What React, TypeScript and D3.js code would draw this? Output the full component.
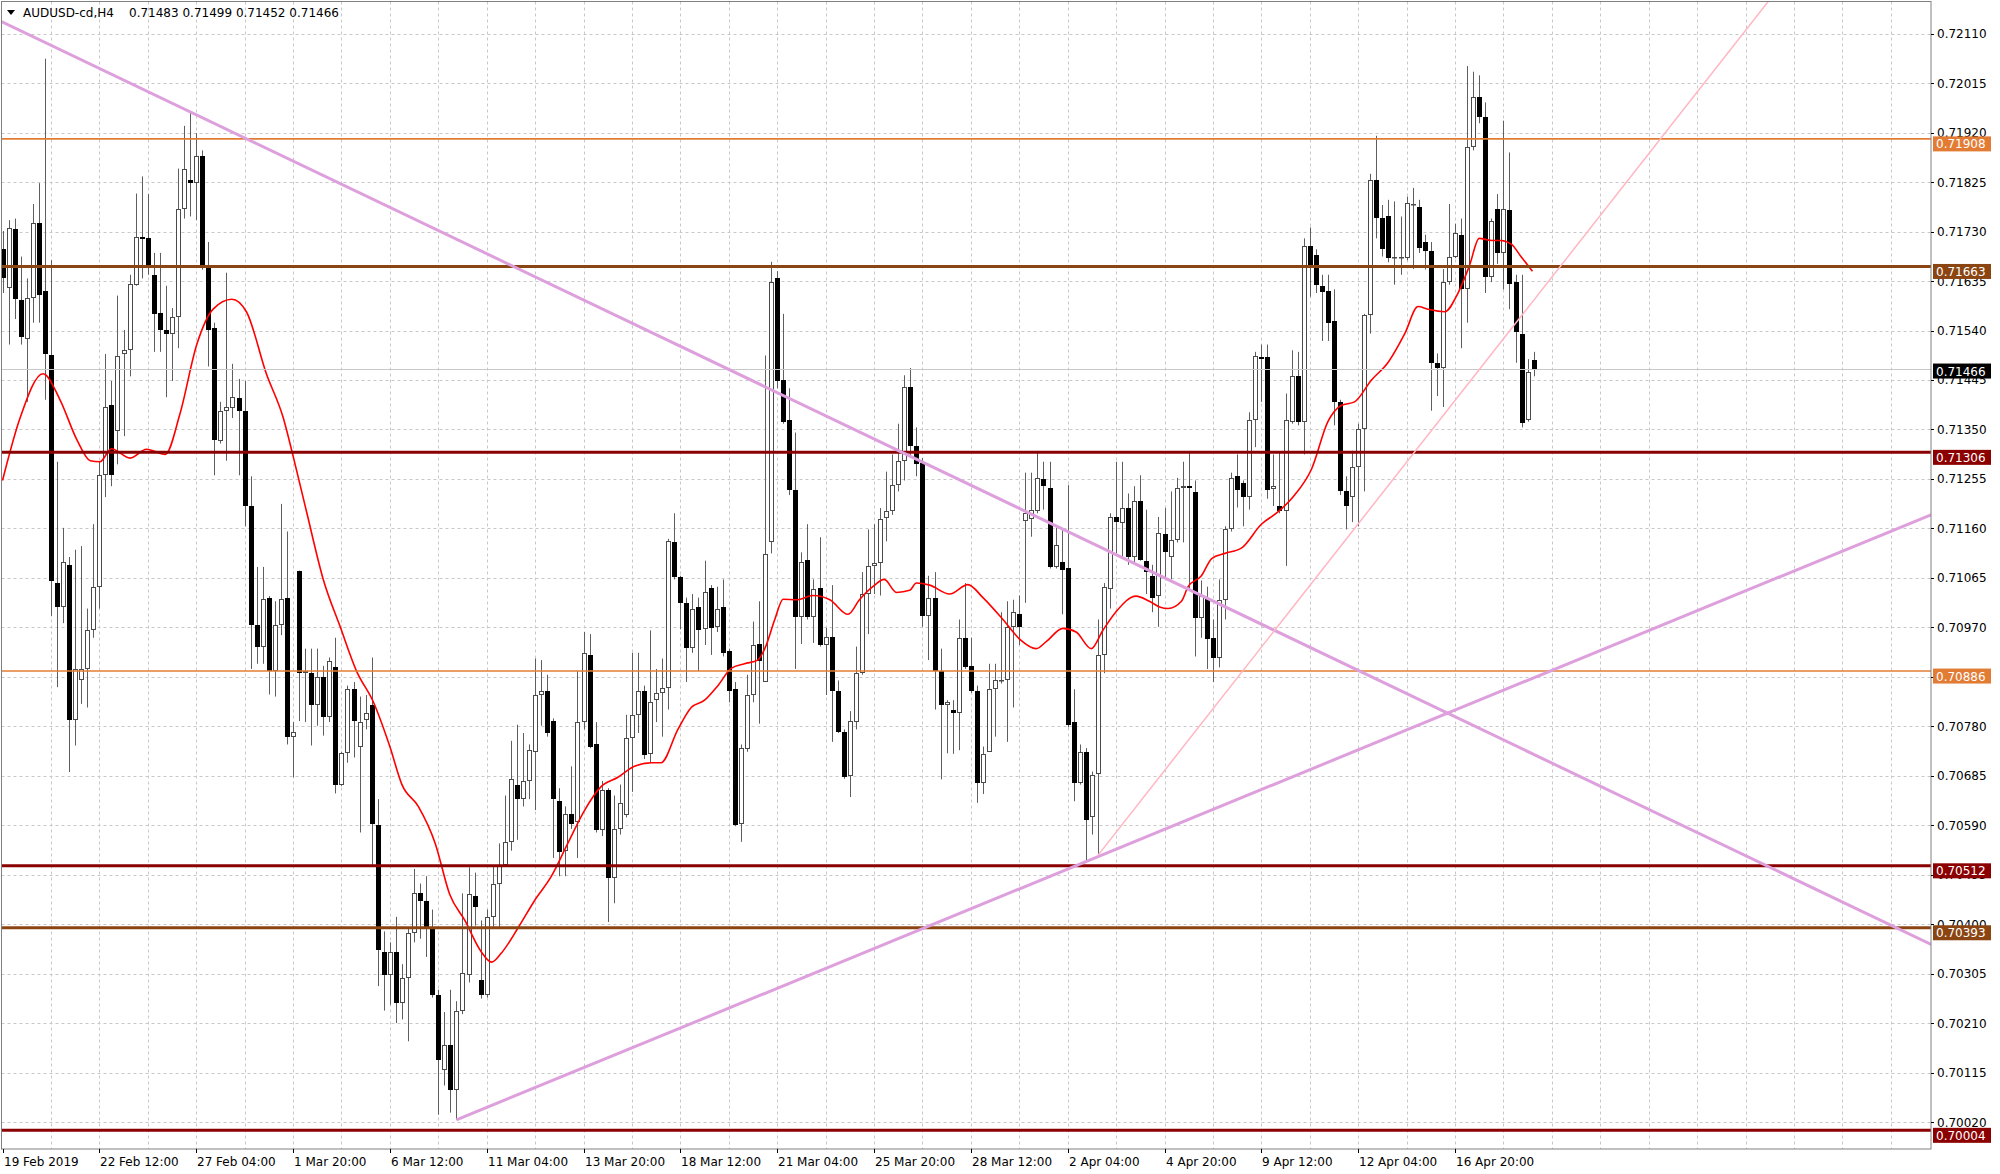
import React from "react";
import * as d3 from "d3";

// ---------- DATA ----------
const SYMBOL = "AUDUSD-cd,H4";
const HEADER_OHLC = "0.71483 0.71499 0.71452 0.71466";

const OPEN = [0.71696,0.71621,0.71734,0.71598,0.71524,0.71603,0.71747,0.71616,0.71493,0.71055,0.71009,0.71090,0.70792,0.70868,0.70890,0.70964,0.71048,0.71262,0.71396,0.71347,0.71495,0.71503,0.71628,0.71720,0.71717,0.71647,0.71574,0.71541,0.71534,0.71566,0.71774,0.71830,0.71823,0.71876,0.71661,0.71545,0.71327,0.71386,0.71392,0.71410,0.71386,0.71203,0.70975,0.70933,0.71027,0.70886,0.70975,0.71027,0.70760,0.71079,0.70882,0.70883,0.70820,0.70874,0.70797,0.70893,0.70668,0.70728,0.70851,0.70741,0.70792,0.70820,0.70590,0.70347,0.70302,0.70347,0.70248,0.70297,0.70383,0.70459,0.70445,0.70393,0.70264,0.70119,0.70168,0.70081,0.70234,0.70302,0.70454,0.70292,0.70264,0.70414,0.70478,0.70513,0.70558,0.70668,0.70640,0.70675,0.70731,0.70840,0.70848,0.70790,0.70637,0.70541,0.70612,0.70597,0.70788,0.70917,0.70745,0.70581,0.70657,0.70488,0.70583,0.70609,0.70757,0.70802,0.70848,0.70727,0.70830,0.70844,0.70854,0.71133,0.71066,0.71016,0.70930,0.71009,0.70966,0.71045,0.70971,0.71009,0.70924,0.70851,0.70593,0.70736,0.70840,0.70938,0.70865,0.71133,0.71640,0.71445,0.71369,0.71234,0.70989,0.71100,0.70989,0.71045,0.70936,0.70952,0.70847,0.70769,0.70685,0.70788,0.70882,0.71034,0.71088,0.71093,0.71179,0.71193,0.71243,0.71290,0.71431,0.71319,0.71285,0.70992,0.71027,0.70886,0.70820,0.70812,0.70806,0.70950,0.70896,0.70848,0.70671,0.70731,0.70851,0.70868,0.70868,0.70971,0.70995,0.71175,0.71178,0.71193,0.71255,0.71238,0.71086,0.71095,0.71083,0.70788,0.70671,0.70731,0.70605,0.70689,0.70917,0.71044,0.71182,0.71171,0.71199,0.71105,0.71213,0.71098,0.71069,0.71030,0.71150,0.71105,0.71137,0.71238,0.71241,0.71229,0.70988,0.71027,0.70950,0.70912,0.71023,0.71158,0.71260,0.71248,0.71221,0.71369,0.71489,0.71489,0.71236,0.71203,0.71193,0.71365,0.71452,0.71364,0.71703,0.71685,0.71626,0.71616,0.71558,0.71403,0.71231,0.71221,0.71278,0.71351,0.71569,0.71830,0.71757,0.71759,0.71679,0.71682,0.71679,0.71781,0.71778,0.71710,0.71693,0.71478,0.71468,0.71633,0.71682,0.71724,0.71619,0.71893,0.71989,0.71950,0.71643,0.71774,0.71689,0.71771,0.71633,0.71534,0.71369,0.71483];
const HIGH = [0.71731,0.71752,0.71755,0.71682,0.71640,0.71783,0.71823,0.72062,0.71675,0.71288,0.71161,0.71105,0.71119,0.71126,0.71006,0.71168,0.71288,0.71495,0.71443,0.71607,0.71541,0.71647,0.71803,0.71836,0.71802,0.71689,0.71689,0.71626,0.71583,0.71851,0.71933,0.71961,0.71919,0.71886,0.71710,0.71555,0.71403,0.71651,0.71476,0.71447,0.71443,0.71260,0.71086,0.71086,0.71030,0.71020,0.71207,0.71154,0.70788,0.71079,0.70929,0.70929,0.70929,0.70896,0.70912,0.70950,0.70731,0.70858,0.70865,0.70837,0.70840,0.70912,0.70640,0.70386,0.70365,0.70414,0.70323,0.70393,0.70506,0.70478,0.70492,0.70428,0.70274,0.70231,0.70274,0.70252,0.70459,0.70509,0.70499,0.70407,0.70428,0.70513,0.70555,0.70647,0.70752,0.70783,0.70767,0.70745,0.70910,0.70907,0.70879,0.70795,0.70661,0.70626,0.70703,0.70886,0.70961,0.70957,0.70788,0.70675,0.70661,0.70647,0.70668,0.70802,0.70921,0.70921,0.70858,0.70964,0.70890,0.70910,0.71140,0.71189,0.71069,0.71027,0.71034,0.71027,0.71098,0.71051,0.71048,0.71062,0.70929,0.70865,0.70745,0.70879,0.70981,0.71020,0.71492,0.71672,0.71654,0.71572,0.71429,0.71344,0.71114,0.71168,0.71062,0.71143,0.70969,0.71051,0.70868,0.70774,0.70809,0.70933,0.71076,0.71158,0.71168,0.71199,0.71269,0.71302,0.71361,0.71454,0.71468,0.71354,0.71295,0.71069,0.71076,0.70929,0.70830,0.70830,0.70985,0.71055,0.70950,0.70858,0.70741,0.70900,0.70900,0.70999,0.71020,0.71023,0.71031,0.71267,0.71267,0.71306,0.71288,0.71288,0.71161,0.71161,0.71243,0.70851,0.70745,0.70738,0.70693,0.70985,0.71055,0.71189,0.71288,0.71288,0.71227,0.71241,0.71262,0.71196,0.71090,0.71182,0.71199,0.71231,0.71257,0.71288,0.71305,0.71252,0.71060,0.71048,0.70985,0.71062,0.71164,0.71267,0.71302,0.71252,0.71383,0.71499,0.71513,0.71513,0.71302,0.71305,0.71419,0.71502,0.71499,0.71717,0.71738,0.71696,0.71647,0.71647,0.71619,0.71407,0.71260,0.71309,0.71361,0.71572,0.71841,0.71914,0.71781,0.71791,0.71788,0.71759,0.71797,0.71814,0.71791,0.71724,0.71710,0.71496,0.71658,0.71783,0.71745,0.71755,0.72048,0.72037,0.72030,0.71978,0.71755,0.71802,0.71943,0.71882,0.71647,0.71647,0.71485,0.71499];
const LOW = [0.71612,0.71513,0.71562,0.71513,0.71403,0.71555,0.71555,0.71407,0.70992,0.70855,0.70978,0.70692,0.70743,0.70823,0.70816,0.70950,0.71006,0.71220,0.71241,0.71283,0.71337,0.71452,0.71626,0.71640,0.71647,0.71499,0.71499,0.71412,0.71443,0.71506,0.71755,0.71759,0.71752,0.71657,0.71471,0.71262,0.71323,0.71290,0.71372,0.71262,0.71164,0.70890,0.70900,0.70900,0.70841,0.70837,0.70955,0.70745,0.70682,0.70790,0.70788,0.70743,0.70781,0.70762,0.70788,0.70651,0.70665,0.70710,0.70720,0.70576,0.70774,0.70513,0.70281,0.70234,0.70245,0.70210,0.70217,0.70175,0.70365,0.70372,0.70337,0.70259,0.70034,0.70090,0.70038,0.70024,0.70227,0.70288,0.70397,0.70257,0.70259,0.70393,0.70393,0.70513,0.70541,0.70562,0.70626,0.70640,0.70619,0.70781,0.70760,0.70527,0.70492,0.70492,0.70583,0.70527,0.70774,0.70738,0.70576,0.70569,0.70404,0.70440,0.70572,0.70605,0.70654,0.70767,0.70717,0.70710,0.70788,0.70760,0.70812,0.71062,0.70966,0.70865,0.70921,0.70886,0.70936,0.70917,0.70961,0.70914,0.70826,0.70588,0.70558,0.70731,0.70826,0.70785,0.70865,0.71112,0.71429,0.71361,0.71224,0.70890,0.70938,0.70985,0.70940,0.70933,0.70840,0.70750,0.70767,0.70679,0.70644,0.70774,0.70879,0.70957,0.71034,0.71031,0.71135,0.71186,0.71231,0.71252,0.71295,0.71260,0.70971,0.70907,0.70812,0.70678,0.70728,0.70727,0.70734,0.70890,0.70844,0.70633,0.70650,0.70731,0.70760,0.70862,0.70750,0.70816,0.70936,0.71017,0.71144,0.71189,0.71196,0.71083,0.71083,0.70995,0.70778,0.70636,0.70668,0.70520,0.70572,0.70530,0.70882,0.71006,0.71112,0.71105,0.71090,0.71090,0.71098,0.71034,0.70999,0.70971,0.71062,0.71062,0.71133,0.71133,0.71041,0.70914,0.70950,0.70890,0.70865,0.70893,0.70985,0.71154,0.71200,0.71164,0.71196,0.71316,0.71403,0.71217,0.71203,0.71189,0.71088,0.71361,0.71358,0.71302,0.71605,0.71612,0.71520,0.71520,0.71358,0.71224,0.71158,0.71172,0.71164,0.71231,0.71534,0.71717,0.71682,0.71671,0.71628,0.71647,0.71675,0.71658,0.71689,0.71657,0.71386,0.71414,0.71393,0.71628,0.71679,0.71506,0.71555,0.71886,0.71938,0.71612,0.71633,0.71668,0.71619,0.71581,0.71478,0.71354,0.71365,0.71452];
const CLOSE = [0.71640,0.71736,0.71600,0.71527,0.71602,0.71747,0.71609,0.71495,0.71058,0.71009,0.71095,0.70792,0.70890,0.70890,0.70964,0.71048,0.71262,0.71393,0.71262,0.71492,0.71503,0.71630,0.71720,0.71716,0.71665,0.71572,0.71541,0.71534,0.71566,0.71774,0.71851,0.71823,0.71876,0.71665,0.71541,0.71330,0.71386,0.71393,0.71412,0.71386,0.71203,0.70974,0.70933,0.71024,0.70886,0.70975,0.71024,0.70760,0.70769,0.70883,0.70886,0.70820,0.70874,0.70797,0.70905,0.70668,0.70728,0.70851,0.70790,0.70788,0.70806,0.70593,0.70351,0.70302,0.70347,0.70248,0.70297,0.70383,0.70459,0.70445,0.70393,0.70264,0.70140,0.70168,0.70081,0.70234,0.70306,0.70457,0.70433,0.70264,0.70414,0.70478,0.70513,0.70558,0.70679,0.70640,0.70675,0.70734,0.70840,0.70848,0.70767,0.70640,0.70538,0.70612,0.70593,0.70788,0.70921,0.70741,0.70581,0.70657,0.70488,0.70583,0.70633,0.70757,0.70802,0.70847,0.70724,0.70827,0.70844,0.70854,0.71135,0.71066,0.71016,0.70930,0.71006,0.70964,0.71037,0.70968,0.71006,0.70921,0.70848,0.70590,0.70738,0.70840,0.70936,0.70905,0.71110,0.71633,0.71443,0.71365,0.71234,0.70989,0.71095,0.70989,0.71044,0.70936,0.70952,0.70848,0.70769,0.70682,0.70790,0.70882,0.71034,0.71088,0.71093,0.71178,0.71193,0.71243,0.71290,0.71431,0.71319,0.71283,0.70992,0.71027,0.70886,0.70820,0.70826,0.70805,0.70950,0.70893,0.70848,0.70671,0.70727,0.70851,0.70868,0.70869,0.70971,0.70999,0.70971,0.71189,0.71196,0.71257,0.71241,0.71086,0.71129,0.71081,0.70783,0.70671,0.70731,0.70600,0.70686,0.70917,0.71048,0.71182,0.71172,0.71199,0.71105,0.71213,0.71100,0.71076,0.71027,0.71151,0.71114,0.71137,0.71238,0.71241,0.71238,0.70988,0.71031,0.70947,0.70912,0.71023,0.71158,0.71257,0.71234,0.71221,0.71369,0.71492,0.71485,0.71234,0.71241,0.71193,0.71369,0.71452,0.71364,0.71703,0.71665,0.71628,0.71614,0.71555,0.71403,0.71231,0.71203,0.71278,0.71351,0.71569,0.71830,0.71757,0.71696,0.71679,0.71682,0.71682,0.71785,0.71783,0.71699,0.71692,0.71478,0.71468,0.71633,0.71682,0.71727,0.71619,0.71893,0.71989,0.71950,0.71643,0.71750,0.71689,0.71774,0.71630,0.71537,0.71362,0.71461,0.71466];

// Moving average (red), read as [bar, price]
const MA_BARS = [0,2.9,6.7,9.5,12.3,14.5,16.1,18,21.1,23.8,26.9,29.3,32.1,34.8,37.9,40.3,43.6,46.4,48.1,50.3,53,55.8,58.5,61.3,64,66,68.7,71.5,73.9,76.4,79.1,80.8,82.4,85.2,87.9,90.7,93.4,96.2,98.9,101.7,104.4,107.2,108.8,111.6,113.8,116,118.2,120.4,122.6,124.8,126.2,127.6,129,131.2,133.9,136.7,139.7,141.6,143.8,145.7,147.7,149.9,151,153.2,156.5,159.5,162,165.3,168.1,170.8,172.5,175.2,177.4,179.9,181.8,184,187.3,189.5,191.2,192.6,194.8,195.9,198.1,199.8,202,204.7,208,210.8,213.5,216.3,219,221.2,223.4,226.2,228.9,231.7,233.9,235.5,238.3,240.5,242.4,244,246,247.6,249.3,250.9,252.8];
const MA_VALUES = [0.71252,0.71372,0.71457,0.71407,0.71330,0.71290,0.71288,0.71313,0.71295,0.71312,0.71302,0.71379,0.71513,0.71581,0.71600,0.71576,0.71457,0.71372,0.71295,0.71189,0.71062,0.70971,0.70886,0.70826,0.70741,0.70668,0.70626,0.70555,0.70457,0.70407,0.70347,0.70327,0.70344,0.70393,0.70445,0.70492,0.70555,0.70619,0.70664,0.70682,0.70703,0.70710,0.70710,0.70774,0.70816,0.70830,0.70858,0.70891,0.70900,0.70907,0.70936,0.70985,0.71024,0.71023,0.71031,0.71023,0.70995,0.71023,0.71048,0.71062,0.71037,0.71041,0.71055,0.71051,0.71034,0.71052,0.71027,0.70985,0.70947,0.70929,0.70943,0.70968,0.70961,0.70929,0.70964,0.71000,0.71030,0.71020,0.71009,0.71006,0.71020,0.71048,0.71069,0.71102,0.71112,0.71122,0.71168,0.71192,0.71224,0.71274,0.71365,0.71396,0.71403,0.71445,0.71478,0.71534,0.71586,0.71581,0.71576,0.71612,0.71665,0.71717,0.71713,0.71713,0.71706,0.71682,0.71654];

// Horizontal levels
const LEVEL_VALUES = [0.71908, 0.71663, 0.71306, 0.70886, 0.70512, 0.70393, 0.70004];
const LEVEL_KINDS = ["orange", "brown", "red", "orange", "red", "brown", "red"];
const CURRENT_PRICE = 0.71466;

// Trend lines: [bar1, price1, bar2, price2]
const TREND_RESIST = [31, 0.71960, 253, 0.70726];
const TREND_SUPPORT = [75, 0.70024, 253, 0.70873];
const TREND_PINK = [181, 0.70532, 253, 0.71598];

const PRICE_TICKS = ["0.70020","0.70115","0.70210","0.70305","0.70400","0.70495","0.70590","0.70685","0.70780","0.70875","0.70970","0.71065","0.71160","0.71255","0.71350","0.71445","0.71540","0.71635","0.71730","0.71825","0.71920","0.72015","0.72110"];
const TIME_LABEL_BARS = [0,16,32,48,64,80,96,112,128,144,160,176,192,208,224,240];
const TIME_LABELS = ["19 Feb 2019","22 Feb 12:00","27 Feb 04:00","1 Mar 20:00","6 Mar 12:00","11 Mar 04:00","13 Mar 20:00","18 Mar 12:00","21 Mar 04:00","25 Mar 20:00","28 Mar 12:00","2 Apr 04:00","4 Apr 20:00","9 Apr 12:00","12 Apr 04:00","16 Apr 20:00"];

// ---------- LAYOUT / STYLE ----------
const W = 2000, H = 1174;
const PL = 1.5, PT = 1.5, PR = 1931, PB = 1149;
const FONT = "'DejaVu Sans', Verdana, sans-serif";
const LEVEL_STYLE: Record<string, { color: string; width: number }> = {
  orange: { color: "#E27C35", width: 1.6 },
  brown: { color: "#8B4513", width: 3 },
  red: { color: "#8B0000", width: 3 },
};

export default function App() {
  const x = d3.scaleLinear().domain([0, 240]).range([2.5, 1455]);
  const y = d3.scaleLinear().domain([0.7002, 0.7211]).range([1122, 33.7]);
  const lastBar = Math.floor(x.invert(PR));
  const gridBars = d3.range(8, lastBar + 1, 8);
  const cxOf = (i: number) => Math.round(x(i)) + 0.5;

  const maLine = d3
    .line<number>()
    .x((_, i) => x(MA_BARS[i]))
    .y((v) => y(v))
    .curve(d3.curveMonotoneX)(MA_VALUES) as string;

  const ray = (t: number[], fromBar: number, color: string, width: number) => {
    const slope = (t[3] - t[1]) / (t[2] - t[0]);
    const b2 = lastBar + 5;
    const p1 = t[1] + slope * (fromBar - t[0]);
    const p2 = t[1] + slope * (b2 - t[0]);
    return <line x1={x(fromBar)} y1={y(p1)} x2={x(b2)} y2={y(p2)} stroke={color} strokeWidth={width} />;
  };

  return (
    <div>
      <style>{"body{margin:0;background:#fff}"}</style>
      <svg width={W} height={H} style={{ display: "block", fontFamily: FONT }}>
        <defs>
          <clipPath id="plot">
            <rect x={PL} y={PT} width={PR - PL} height={PB - PT} />
          </clipPath>
        </defs>
        <rect x={0} y={0} width={W} height={H} fill="#fff" />
        <g clipPath="url(#plot)">
          {/* grid */}
          {PRICE_TICKS.map((t) => (
            <line key={"hg" + t} x1={PL} x2={PR} y1={Math.round(y(+t)) + 0.5} y2={Math.round(y(+t)) + 0.5} stroke="#C8C8C8" strokeDasharray="3,3" />
          ))}
          {gridBars.map((b) => (
            <line key={"vg" + b} x1={cxOf(b)} x2={cxOf(b)} y1={PT} y2={PB} stroke="#C8C8C8" strokeDasharray="3,3" />
          ))}
          {/* candles */}
          {OPEN.map((o, i) => {
            const c = CLOSE[i];
            const cx = cxOf(i);
            const bull = c >= o;
            const top = Math.round(y(Math.max(o, c)));
            const bot = Math.round(y(Math.min(o, c)));
            const hgt = Math.max(1, bot - top);
            return (
              <g key={"c" + i}>
                <line x1={cx} x2={cx} y1={y(HIGH[i])} y2={y(LOW[i])} stroke="#5E5E5E" strokeWidth={1} />
                {bull ? (
                  <rect x={cx - 2} y={top + 0.5} width={4} height={Math.max(0.5, hgt - 1)} fill="#fff" stroke="#4A4A4A" strokeWidth={1} />
                ) : (
                  <rect x={cx - 2.5} y={top} width={5} height={hgt} fill="#000" />
                )}
              </g>
            );
          })}
          {/* moving average */}
          <path d={maLine} fill="none" stroke="#FF0000" strokeWidth={1.6} />
          {/* current price line */}
          <line x1={PL} x2={PR} y1={Math.round(y(CURRENT_PRICE)) + 0.5} y2={Math.round(y(CURRENT_PRICE)) + 0.5} stroke="#C8C8C8" strokeWidth={1} />
          {/* horizontal levels */}
          {LEVEL_VALUES.map((v, i) => {
            const s = LEVEL_STYLE[LEVEL_KINDS[i]];
            return <line key={"lv" + i} x1={PL} x2={PR} y1={y(v)} y2={y(v)} stroke={s.color} strokeWidth={s.width} />;
          })}
          {/* trend lines */}
          {ray(TREND_RESIST, -5, "#DDA0DD", 3)}
          {ray(TREND_SUPPORT, TREND_SUPPORT[0], "#DDA0DD", 3)}
          {ray(TREND_PINK, TREND_PINK[0], "#FFB6C1", 1.5)}
        </g>
        {/* frame */}
        <rect x={PL} y={PT} width={PR - PL} height={PB - PT} fill="none" stroke="#808080" strokeWidth={1} />
        {/* price axis */}
        {PRICE_TICKS.map((t) => (
          <g key={"pt" + t}>
            <line x1={PR} x2={PR + 3} y1={Math.round(y(+t)) + 0.5} y2={Math.round(y(+t)) + 0.5} stroke="#000" />
            <text x={PR + 6} y={y(+t) + 4.5} fontSize={12} fill="#000">{t}</text>
          </g>
        ))}
        {/* level labels */}
        {LEVEL_VALUES.map((v, i) => {
          const s = LEVEL_STYLE[LEVEL_KINDS[i]];
          const yy = y(v);
          return (
            <g key={"ll" + i}>
              <rect x={PR + 2} y={yy - 2.5} width={58} height={15} fill={s.color} />
              <text x={PR + 5} y={yy + 9.5} fontSize={12} fill="#fff">{v.toFixed(5)}</text>
            </g>
          );
        })}
        <g>
          <rect x={PR + 2} y={y(CURRENT_PRICE) - 5.5} width={58} height={15} fill="#000" />
          <text x={PR + 5} y={y(CURRENT_PRICE) + 6.5} fontSize={12} fill="#fff">{CURRENT_PRICE.toFixed(5)}</text>
        </g>
        {/* time axis */}
        {TIME_LABEL_BARS.map((b, i) => (
          <g key={"tl" + b}>
            <line x1={cxOf(b)} x2={cxOf(b)} y1={PB} y2={PB + 4} stroke="#000" />
            <text x={cxOf(b) + 0.5} y={PB + 17} fontSize={12} fill="#000">{TIME_LABELS[i]}</text>
          </g>
        ))}
        {/* header */}
        <path d="M7,10 L15,10 L11,15 Z" fill="#000" />
        <text x={23} y={17} fontSize={12} fill="#000">{SYMBOL}</text>
        <text x={129} y={17} fontSize={12} fill="#000">{HEADER_OHLC}</text>
      </svg>
    </div>
  );
}
